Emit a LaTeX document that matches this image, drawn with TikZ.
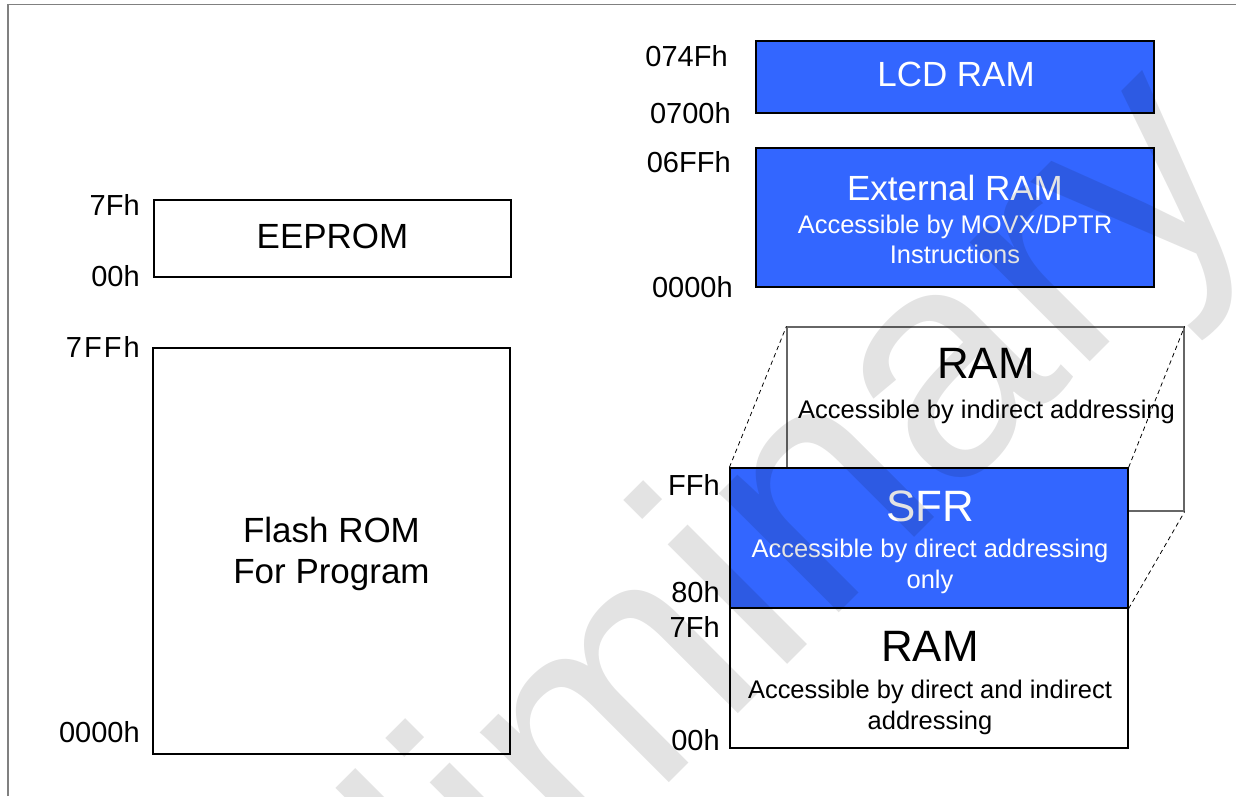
\documentclass[tikz,border=0pt]{standalone}
\usepackage{fontspec}
\setmainfont{Liberation Sans}
\definecolor{ramblue}{HTML}{3366FF}
\tikzset{
	membox/.style={rectangle, draw=black, line width=0.7pt, inner sep=0pt},
	bluebox/.style={membox, fill=ramblue},
	zoomline/.style={dash pattern=on 2.5pt off 2pt, line width=0.45pt},
	addr/.style={anchor=base east, inner sep=0pt, font=\fontsize{16.5}{19}\selectfont},
	bigname/.style={anchor=base, inner sep=0pt, font=\fontsize{19.9}{24}\selectfont},
	ramname/.style={anchor=base, inner sep=0pt, font=\fontsize{25}{30}\selectfont},
	subname/.style={anchor=base, inner sep=0pt, font=\fontsize{14.5}{17}\selectfont},
}

\begin{document}
\begin{tikzpicture}
			%%%%% START %%%%%
			\useasboundingbox (0, 0) rectangle (24.72, 15.92);
			\fill[white] (0, 0) rectangle (24.72, 15.92);
			
			\draw[line width=1.1pt, color=black!50] (0.16, 0) -- (0.16, 15.83) -- (24.72, 15.83);
			
			%%%%% EEPROM %%%%%
			\node[membox, minimum width=7.14cm, minimum height=1.54cm] (eeprom) at (6.65, 11.15) {};
			\node[bigname] (eepromtxt) at (6.65, 10.96) {EEPROM};
			\node[addr] (eepromhi) at (2.80, 11.62) {7Fh};
			\node[addr] (eepromlo) at (2.80, 10.20) {00h};
			
			%%%%% FLASH %%%%%
			\node[membox, minimum width=7.14cm, minimum height=8.12cm] (flash) at (6.63, 4.90) {};
			\node[bigname] (flashtxt) at (6.63, 5.08) {Flash ROM};
			\node[bigname] (flashsub) at (6.63, 4.26) {For Program};
			\node[addr] (flashhi) at (2.80, 8.78) {\addfontfeature{LetterSpace=7}7FFh};
			\node[addr] (flashlo) at (2.80, 1.08) {0000h};
			
			%%%%% LCD RAM %%%%%
			\node[bluebox, minimum width=7.96cm, minimum height=1.44cm] (lcd) at (19.10, 14.38) {};
			\node[bigname, white] (lcdtxt) at (19.12, 14.18) {LCD RAM};
			\node[addr] (lcdhi) at (14.56, 14.58) {074Fh};
			\node[addr] (lcdlo) at (14.62, 13.46) {0700h};
			
			%%%%% EXTERNAL RAM %%%%%
			\node[bluebox, minimum width=7.96cm, minimum height=2.78cm] (xram) at (19.10, 11.57) {};
			\node[bigname, white] (xramtxt) at (19.10, 11.92) {External RAM};
			\node[subname, white] (xramsub) at (19.10, 11.26) {Accessible by MOVX/DPTR};
			\node[subname, white] (xraminst) at (19.10, 10.66) {Instructions};
			\node[addr] (xramhi) at (14.62, 12.48) {06FFh};
			\node[addr] (xramlo) at (14.66, 9.98) {0000h};
			
			%%%%% INTERNAL RAM %%%%%
			\node[membox, draw=black!60, minimum width=7.94cm, minimum height=3.68cm] (ramhi) at (19.71, 7.54) {};
			\node[ramname] (ramhitxt) at (19.72, 8.36) {RAM};
			\node[subname] (ramhisub) at (19.73, 7.56) {Accessible by indirect addressing};
			
			\node[bluebox, minimum width=7.96cm, minimum height=2.80cm] (sfr) at (18.58, 5.16) {};
			\draw[zoomline] (sfr.north west) -- (ramhi.north west);
			\draw[zoomline] (sfr.north east) -- (ramhi.north east);
			\draw[zoomline] (sfr.south east) -- (ramhi.south east);
			\node[ramname, white] (sfrtxt) at (18.60, 5.50) {SFR};
			\node[subname, white] (sfrsub) at (18.60, 4.78) {Accessible by direct addressing};
			\node[subname, white] (sfronly) at (18.60, 4.16) {only};
			\node[addr] (sfrhi) at (14.40, 6.02) {FFh};
			\node[addr] (sfrlo) at (14.40, 3.88) {80h};
			
			\node[membox, minimum width=7.96cm, minimum height=2.80cm] (ramlo) at (18.58, 2.36) {};
			\node[ramname] (ramlotxt) at (18.60, 2.70) {RAM};
			\node[subname] (ramlosub) at (18.60, 1.96) {Accessible by direct and indirect};
			\node[subname] (ramloaddr) at (18.60, 1.34) {addressing};
			\node[addr] (ramlohi) at (14.40, 3.18) {7Fh};
			\node[addr] (ramlolo) at (14.40, 0.92) {00h};
			
			%%%%% WATERMARK %%%%%
			\begin{scope}
				\clip (0, 0) rectangle (24.72, 15.92);
				\node[anchor=base west, rotate=45, inner sep=0pt, text=black, text opacity=0.11, font=\fontsize{182}{200}\selectfont] (stamp) at (2.64, -10.48) {Preliminary};
			\end{scope}
			
			%%%%% END %%%%%
\end{tikzpicture}
\end{document}
